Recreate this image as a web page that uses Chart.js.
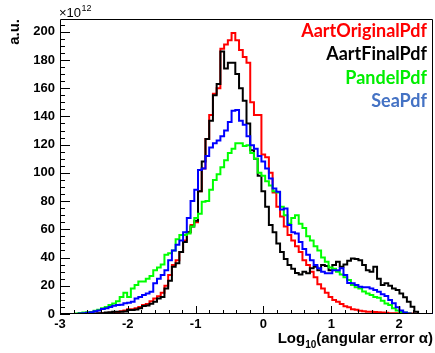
<!DOCTYPE html>
<html><head><meta charset="utf-8">
<script src="https://cdn.jsdelivr.net/npm/chart.js@4"></script>
<style>html,body{margin:0;padding:0;background:#fff;}canvas{display:block}</style>
</head><body>
<canvas id="c" width="435" height="353"></canvas>
<script>
// Histogram binning (100 bins from -3 to 2.5)
const histMin = -3, histMax = 2.5, nBins = 100;
const seriesNames = ['AartOriginalPdf', 'AartFinalPdf', 'PandelPdf', 'SeaPdf'];
const seriesColors = ['#ff0000', '#000000', '#00ff00', '#0000ff'];
const legendColors = ['#ff0000', '#000000', '#00ee00', '#4472c4'];
const xTickLabels = [-3, -2, -1, 0, 1, 2];
const yTickLabels = [0, 20, 40, 60, 80, 100, 120, 140, 160, 180, 200];

// values in units of 1e12 a.u.
const aartOriginal = [
  0,0,0,0,0,0,0,0,0,0.2,
  0.3,0.5,0.5,0.8,1,1.5,2,2.5,3.3,3.3,
  4,5,6.4,7,9,11,12.5,15,20,27.6,
  34.7,38,44,52,58,63,65,87,103,124,
  141,156,160,188,191,194,199,194,187,182,
  178,150,141,141,113,111,100,86,76,69,
  62,56,52,48,44,38,34.7,30,26,21,
  18,15,12,10,8.7,7,5.5,4.7,3.3,3,
  2.3,2,1.6,1.6,1.5,1.2,1,0.8,0.6,0.5,
  0.5,0.4,0.4,0.3,0.3,0.2,0,0,0,0
];
const aartFinal = [
  0,0,0,0,0,0,0,0,0.2,0.3,
  0.5,0.5,1,1.2,1.6,1.6,1.6,1.8,2.8,2.8,
  3.2,4,5.7,6,7.2,8.7,11,12,18,23.6,
  33.5,36,44,51,58,62,66,87,108,124,
  137,155,163,186,174,178,178,170,160,151,
  135,116,110,98,87,76,63,58,50,44,
  39,34.7,32,29,28,30,28.8,32.4,33.5,31,
  34.7,34,31,34.7,37,33.5,35,37.7,39.4,39,
  38,34.7,31,30,33.5,25,20.5,21.7,20,18,
  17,14.6,11.8,8.7,5.2,1.6,0,0,0,0
];
const pandel = [
  0,0,0,0,0.3,0.7,1,1.2,1.5,2.3,
  3,4,5,6.4,7.5,9,12,15,12,18,
  20.5,23,23,25,27,31,33,35,42,43,
  45,53,56,56,57,62,68,71,79.5,80,
  88,95,99,104,109,114,117,121,121,119,
  119.6,114,110,100,98,94,91,87,86,76,
  70,64,68,70,64,61,55,52,48,45,
  40,37,33,32,30,28,26,24,20.5,19,
  18,16,14.5,13.5,12,11.5,9.4,7.5,6.4,4,
  2.4,1.5,1,0.3,0,0,0,0,0,0
];
const sea = [
  0,0,0,0,0,0.3,0.5,0.8,1.2,2,
  2.5,3.5,4,5,5.8,6.4,6.5,7.6,8,8.7,
  11,12,13.5,14.6,15.8,21.7,25,27.6,31,38,
  45,49,52,58,68,80,88,102,103,112,
  118,121,123,126,130,136,144,144.5,137,134,
  126,119.6,117,112,108,103,96,89,86.6,74,
  74.8,63,58,57,51,46,42,38,34.7,32.4,
  30,28.8,28.8,31,31,32.4,27.6,22,21.7,20.5,
  19.3,19,19,18,17,15.8,14,12.7,9.9,7.6,
  4.7,2.4,1,0.4,0,0,0,0,0,0
];

const binWidth = (histMax - histMin) / nBins;
function toSteps(vals) {
  const pts = vals.map((v, i) => ({x: histMin + i * binWidth, y: v}));
  pts.push({x: histMax, y: vals[vals.length - 1]});
  return pts;
}
const allSeries = [aartOriginal, aartFinal, pandel, sea];

const decor = {
  id: 'decor',
  afterDraw(chart) {
    const {ctx, chartArea: a, scales: {x, y}} = chart;
    ctx.save();
    ctx.strokeStyle = '#000';
    ctx.lineWidth = 1;
    ctx.beginPath();
    // frame
    ctx.rect(a.left + 0.5, a.top + 0.5, a.right - a.left - 1, a.bottom - a.top - 1);
    // x ticks (major 1, minor 0.2)
    for (let k = 0; k <= 27; k++) {
      const v = histMin + 0.2 * k;
      const px = Math.round(x.getPixelForValue(v)) + 0.5;
      const major = Math.abs(v - Math.round(v)) < 1e-6;
      const len = major ? 8 : 4;
      ctx.moveTo(px, a.bottom);
      ctx.lineTo(px, a.bottom - len);
    }
    // y ticks (major 20, minor 5)
    for (let v = 0; v <= 205; v += 5) {
      const py = Math.round(y.getPixelForValue(v)) + 0.5;
      const len = v % 20 === 0 ? 10 : 5;
      ctx.moveTo(a.left, py);
      ctx.lineTo(a.left + len, py);
    }
    ctx.stroke();

    ctx.fillStyle = '#000';
    // exponent label
    ctx.textBaseline = 'alphabetic';
    ctx.textAlign = 'left';
    ctx.font = '13px "Liberation Sans"';
    ctx.fillText('\u00d710', 59, 17);
    const w10 = ctx.measureText('\u00d710').width;
    ctx.font = '9px "Liberation Sans"';
    ctx.fillText('12', 59 + w10 + 0.5, 11);

    // y title
    ctx.save();
    ctx.translate(18.5, 19);
    ctx.rotate(-Math.PI / 2);
    ctx.textAlign = 'right';
    ctx.font = 'bold 15px "Liberation Sans"';
    ctx.fillText('a.u.', 0, 0);
    ctx.restore();

    // x title: Log10(angular error α)
    const big = 'bold 15px "Liberation Sans"', small = 'bold 10px "Liberation Sans"';
    ctx.font = big;
    const wLog = ctx.measureText('Log').width;
    const wRest = ctx.measureText('(angular error \u03b1)').width;
    ctx.font = small;
    const wSub = ctx.measureText('10').width;
    const right = a.right;
    let sx = right - (wLog + wSub + wRest);
    const base = 343;
    ctx.font = big; ctx.fillText('Log', sx, base);
    ctx.font = small; ctx.fillText('10', sx + wLog, base + 5);
    ctx.font = big; ctx.fillText('(angular error \u03b1)', sx + wLog + wSub, base);

    // legend (text only, right aligned)
    ctx.textAlign = 'right';
    ctx.font = 'bold 18px Lato';
    const baselines = [36.5, 60, 83.5, 107];
    seriesNames.forEach((n, i) => {
      ctx.fillStyle = legendColors[i];
      ctx.fillText(n, 427, baselines[i]);
    });
    ctx.restore();
  }
};

new Chart(document.getElementById('c'), {
  type: 'line',
  data: {
    datasets: allSeries.map((vals, i) => ({
      label: seriesNames[i],
      data: toSteps(vals),
      borderColor: seriesColors[i],
      borderWidth: 2,
      pointRadius: 0,
      fill: false,
      stepped: true,
      tension: 0,
      order: 3 - i
    }))
  },
  options: {
    responsive: false,
    animation: false,
    devicePixelRatio: 1,
    layout: {padding: {top: 19, right: 2, left: 0, bottom: 0}},
    plugins: {legend: {display: false}, tooltip: {enabled: false}, title: {display: false}},
    scales: {
      x: {
        type: 'linear', min: histMin, max: histMax,
        grid: {display: false, drawTicks: false},
        border: {display: false},
        ticks: {
          stepSize: 1, includeBounds: false, padding: 3, maxRotation: 0,
          color: '#000', font: {family: 'Liberation Sans', size: 13, weight: 'bold'},
          callback: (v) => xTickLabels.includes(v) ? String(v) : ''
        },
        afterFit(s) { s.height = 39; }
      },
      y: {
        type: 'linear', min: 0, max: 209,
        grid: {display: false, drawTicks: false},
        border: {display: false},
        ticks: {
          stepSize: 20, includeBounds: false, padding: 5,
          color: '#000', font: {family: 'Liberation Sans', size: 13, weight: 'bold'},
          callback: (v) => yTickLabels.includes(v) ? String(v) : ''
        },
        afterFit(s) { s.width = 60; }
      }
    }
  },
  plugins: [decor]
});
</script>
</body></html>
